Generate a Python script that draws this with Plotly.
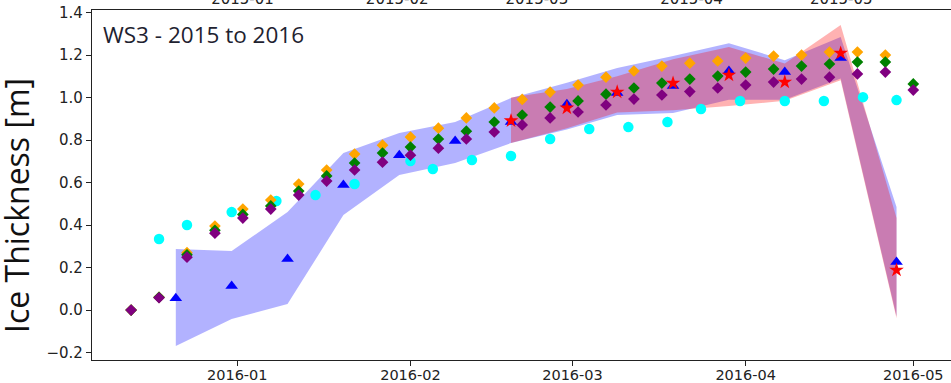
import plotly.graph_objects as go

# --- five-day thickness series (diamonds) ---
diamond_dates = ["2015-12-13", "2015-12-18", "2015-12-23", "2015-12-28", "2016-01-02",
                 "2016-01-07", "2016-01-12", "2016-01-17", "2016-01-22", "2016-01-27",
                 "2016-02-01", "2016-02-06", "2016-02-11", "2016-02-16", "2016-02-21",
                 "2016-02-26", "2016-03-02", "2016-03-07", "2016-03-12", "2016-03-17",
                 "2016-03-22", "2016-03-27", "2016-04-01", "2016-04-06", "2016-04-11",
                 "2016-04-16", "2016-04-21", "2016-04-26", "2016-05-01"]
orange_vals = [0.0, 0.06, 0.27, 0.395, 0.475, 0.518, 0.593, 0.659, 0.734, 0.776,
               0.814, 0.856, 0.904, 0.951, 0.991, 1.026, 1.059, 1.096, 1.125, 1.148,
               1.162, 1.172, 1.186, 1.195, 1.200, 1.214, 1.214, 1.200, None]
green_vals = [0.0, 0.06, 0.26, 0.375, 0.450, 0.490, 0.560, 0.631, 0.692, 0.739,
              0.767, 0.805, 0.842, 0.885, 0.918, 0.955, 0.984, 1.016, 1.045, 1.068,
              1.087, 1.101, 1.120, 1.134, 1.148, 1.158, 1.167, 1.167, 1.064]
purple_vals = [0.0, 0.058, 0.249, 0.362, 0.433, 0.475, 0.541, 0.607, 0.659, 0.696,
               0.729, 0.762, 0.805, 0.838, 0.871, 0.904, 0.932, 0.965, 0.993, 1.012,
               1.028, 1.045, 1.059, 1.073, 1.087, 1.096, 1.111, 1.120, 1.035]

# --- weekly series (cyan) ---
cyan_dates = ["2015-12-18", "2015-12-23", "2015-12-31", "2016-01-08", "2016-01-15",
              "2016-01-22", "2016-02-01", "2016-02-05", "2016-02-12", "2016-02-19",
              "2016-02-26", "2016-03-04", "2016-03-11", "2016-03-18", "2016-03-24",
              "2016-03-31", "2016-04-08", "2016-04-15", "2016-04-22", "2016-04-28"]
cyan_vals = [0.334, 0.400, 0.461, 0.513, 0.541, 0.593, 0.701, 0.664, 0.706, 0.725,
             0.805, 0.852, 0.861, 0.885, 0.946, 0.984, 0.984, 0.984, 1.002, 0.988]

# --- ten-day means with spread bands ---
tri_dates = ["2015-12-21", "2015-12-31", "2016-01-10", "2016-01-20", "2016-01-30",
             "2016-02-09", "2016-02-19", "2016-02-29", "2016-03-09", "2016-03-19",
             "2016-03-29", "2016-04-08", "2016-04-18", "2016-04-28"]
blue_vals = [0.056, 0.113, 0.240, 0.588, 0.729, 0.795, 0.885, 0.969, 1.021, 1.054,
             1.125, 1.120, 1.186, 0.226]
blue_upper = [0.287, 0.278, 0.461, 0.739, 0.833, 0.885, 0.998, 1.070, 1.139, 1.195,
              1.256, 1.176, 1.285, 0.485]
blue_lower = [-0.169, -0.042, 0.028, 0.447, 0.635, 0.692, 0.786, 0.850, 0.918, 0.927,
              0.990, 0.990, 1.090, -0.030]

star_dates = ["2016-02-19", "2016-02-29", "2016-03-09", "2016-03-19", "2016-03-29",
              "2016-04-08", "2016-04-18", "2016-04-28"]
red_vals = [0.891, 0.951, 1.026, 1.068, 1.106, 1.073, 1.209, 0.188]
red_upper = [1.000, 1.040, 1.100, 1.180, 1.238, 1.160, 1.341, 0.433]
red_lower = [0.786, 0.856, 0.930, 0.940, 0.960, 0.985, 1.082, -0.038]

y_ticks = [-0.2, 0.0, 0.2, 0.4, 0.6, 0.8, 1.0, 1.2, 1.4]

tick_font = dict(family="DejaVu Sans", size=15, color="#222222")
date_font = dict(family="DejaVu Sans", size=14.5, color="#222222")
axis_col = "#222222"

fig = go.Figure()

# spread bands
fig.add_trace(go.Scatter(
    x=tri_dates + tri_dates[::-1], y=blue_upper + blue_lower[::-1],
    fill="toself", fillcolor="rgba(0,0,255,0.3)", mode="lines",
    line=dict(width=0), hoverinfo="skip", showlegend=False))
fig.add_trace(go.Scatter(
    x=star_dates + star_dates[::-1], y=red_upper + red_lower[::-1],
    fill="toself", fillcolor="rgba(255,0,0,0.3)", mode="lines",
    line=dict(width=0), hoverinfo="skip", showlegend=False))

# point series
fig.add_trace(go.Scatter(x=cyan_dates, y=cyan_vals, mode="markers",
                         marker=dict(symbol="circle", size=10.5, color="#00FFFF"),
                         showlegend=False))
fig.add_trace(go.Scatter(x=diamond_dates, y=orange_vals, mode="markers",
                         marker=dict(symbol="diamond", size=9, color="#FFA500"),
                         showlegend=False))
fig.add_trace(go.Scatter(x=diamond_dates, y=green_vals, mode="markers",
                         marker=dict(symbol="diamond", size=9, color="#008000"),
                         showlegend=False))
fig.add_trace(go.Scatter(x=diamond_dates, y=purple_vals, mode="markers",
                         marker=dict(symbol="diamond", size=9, color="#800080"),
                         showlegend=False))
fig.add_trace(go.Scatter(x=tri_dates, y=blue_vals, mode="markers",
                         marker=dict(symbol="triangle-up", size=11, color="#0000FF"),
                         showlegend=False))
fig.add_trace(go.Scatter(x=star_dates, y=red_vals, mode="markers",
                         marker=dict(symbol="star", size=11, color="#FF0000"),
                         showlegend=False))

# secondary (top) date axis carrier
fig.add_trace(go.Scatter(x=["2015-01-01"], y=[None], xaxis="x2", mode="markers",
                         hoverinfo="skip", showlegend=False))

fig.update_layout(
    width=951, height=383,
    margin=dict(l=92, r=0, t=10, b=23, autoexpand=False),
    paper_bgcolor="white", plot_bgcolor="white",
    xaxis=dict(
        type="date", range=["2015-12-06", "2016-05-07 18:00"],
        tick0="2016-01-01", dtick="M1", tickformat="%Y-%m",
        showgrid=False, zeroline=False, automargin=False,
        showline=True, linecolor=axis_col, linewidth=1.3,
        ticks="outside", ticklen=5, tickcolor=axis_col, tickwidth=1.2,
        ticklabelstandoff=-4,
        tickfont=date_font,
    ),
    xaxis2=dict(
        type="date", overlaying="x", side="top",
        range=["2014-12-01 20:00", "2015-05-23"],
        tick0="2015-01-01", dtick="M1", tickformat="%Y-%m",
        showgrid=False, zeroline=False, automargin=False,
        showline=True, linecolor=axis_col, linewidth=1.3,
        ticks="", ticklen=0,
        ticklabelstandoff=-1,
        tickfont=tick_font,
    ),
    yaxis=dict(
        range=[-0.235, 1.412],
        tickvals=y_ticks, tickformat=".1f",
        showgrid=False, zeroline=False, automargin=False,
        showline=True, linecolor=axis_col, linewidth=1.3,
        ticks="outside", ticklen=5, tickcolor=axis_col, tickwidth=1.2,
        tickfont=tick_font,
    ),
    annotations=[
        dict(text="WS3 - 2015 to 2016", xref="paper", yref="paper",
             x=0, y=1, xanchor="left", yanchor="top", xshift=9, yshift=-7,
             showarrow=False, font=dict(family="Open Sans", size=22.5, color="#1e2230")),
        dict(text="Ice Thickness [m]", xref="paper", yref="paper",
             x=0, y=0.44, xanchor="center", yanchor="middle", xshift=-76,
             textangle=-90, showarrow=False,
             font=dict(family="Open Sans", size=32, color="#111111")),
    ],
)

fig.write_html("out.html")
